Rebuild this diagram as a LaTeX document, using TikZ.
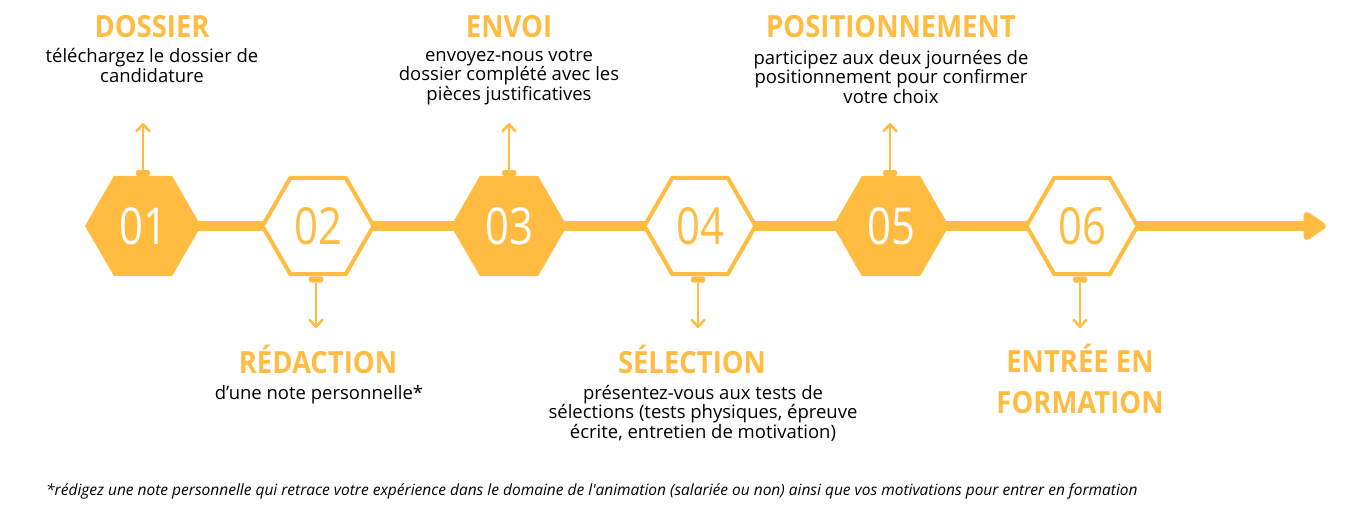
\documentclass[tikz,border=0pt]{standalone}
\usepackage{fontspec}
\setmainfont{Open Sans}
\newfontfamily\numfont[FakeStretch=0.82]{Open Sans}
\newfontfamily\headfont[FakeStretch=0.9]{Open Sans}
\usetikzlibrary{shapes.geometric,arrows.meta,backgrounds}
\definecolor{gold}{HTML}{FFBC40}
\begin{document}
\begin{tikzpicture}[x=1pt,y=-1pt,
    hexfull/.style={regular polygon,regular polygon sides=6,minimum size=116pt,
      inner sep=0pt,fill=gold,text=white,font=\numfont\fontsize{51}{51}\selectfont},
    hexline/.style={regular polygon,regular polygon sides=6,minimum size=111pt,
      inner sep=0pt,draw=gold,line width=4pt,fill=white,text=gold,
      font=\numfont\fontsize{51}{51}\selectfont},
    hextab/.style={fill=gold,rounded corners=1.5pt,minimum width=14pt,
      minimum height=6pt,inner sep=0pt},
    pointer/.style={draw=gold,line width=2.5pt,-{Straight Barb[length=7pt,width=13pt,round]}},
    mainline/.style={draw=gold,line width=10pt,-{Triangle[round,length=25pt,width=32pt]}},
    steptitle/.style={text=gold,font=\headfont\bfseries\fontsize{30.5}{41}\selectfont,
      anchor=base,align=center,inner sep=0pt},
    steptext/.style={font=\fontsize{18.5}{19.3}\selectfont,anchor=base,
      align=center,inner sep=0pt}]
  \useasboundingbox (0,0) rectangle (1366,514);
  % hexagons
  \node[hexfull] (h1) at (143,226) {01};
  \node[hexline] (h2) at (318,226) {02};
  \node[hexfull] (h3) at (509,226) {03};
  \node[hexline] (h4) at (700,226) {04};
  \node[hexfull] (h5) at (891,226) {05};
  \node[hexline] (h6) at (1082,226) {06};
  \coordinate (tip) at (1326,226);
  \begin{pgfonlayer}{background}
    \draw[mainline] (h1.center) -- (tip);
  \end{pgfonlayer}
  % tabs and pointers
  \node[hextab] (t1) at (143,173) {};
  \node[hextab] (t2) at (316,279.5) {};
  \node[hextab] (t3) at (509,173) {};
  \node[hextab] (t4) at (698,279.5) {};
  \node[hextab] (t5) at (890,173) {};
  \node[hextab] (t6) at (1080,279.5) {};
  \coordinate (p1) at (143,123);
  \coordinate (p2) at (316,328);
  \coordinate (p3) at (509,123);
  \coordinate (p4) at (698,328);
  \coordinate (p5) at (890,123);
  \coordinate (p6) at (1080,328);
  \draw[pointer] (t1.north) -- (p1);
  \draw[pointer] (t2.south) -- (p2);
  \draw[pointer] (t3.north) -- (p3);
  \draw[pointer] (t4.south) -- (p4);
  \draw[pointer] (t5.north) -- (p5);
  \draw[pointer] (t6.south) -- (p6);
  % labels (base = last line)
  \node[steptitle] (dossier) at (152,37) {DOSSIER};
  \node[steptext] (dossiertxt) at (152,82) {téléchargez le dossier de\\candidature};
  \node[steptitle] (envoi) at (509,37) {ENVOI};
  \node[steptext] (envoitxt) at (509,100) {envoyez-nous votre\\dossier complété avec les\\pièces justificatives};
  \node[steptitle] (position) at (891,37) {POSITIONNEMENT};
  \node[steptext] (positiontxt) at (891,103) {participez aux deux journées de\\positionnement pour confirmer\\votre choix};
  \node[steptitle] (redaction) at (318,373) {RÉDACTION};
  \node[steptext] (redactiontxt) at (319,399) {d’une note personnelle*};
  \node[steptitle] (selection) at (692,373) {SÉLECTION};
  \node[steptext] (selectiontxt) at (703,438) {présentez-vous aux tests de\\sélections (tests physiques, épreuve\\écrite, entretien de motivation)};
  \node[steptitle] (entree) at (1080,413) {ENTRÉE EN\\FORMATION};
  \node[font=\itshape\fontsize{15.5}{18}\selectfont,anchor=base,inner sep=0pt] (note) at (592,495)
    {*rédigez une note personnelle qui retrace votre expérience dans le domaine de l\textquotesingle animation (salariée ou non) ainsi que vos motivations pour entrer en formation};
\end{tikzpicture}
\end{document}
